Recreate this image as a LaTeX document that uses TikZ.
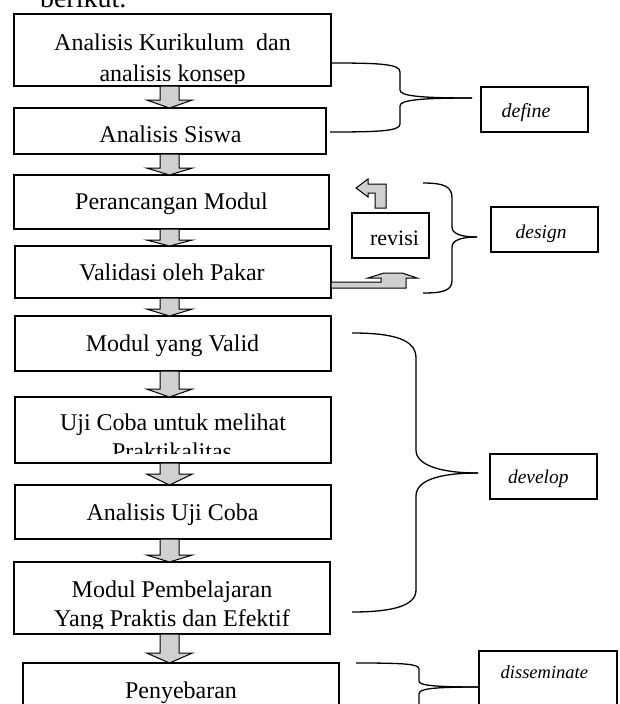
\documentclass[tikz,border=0pt]{standalone}
\usepackage{fontspec}
\setmainfont{Liberation Serif}
\usetikzlibrary{calc}
\definecolor{arrowgray}{RGB}{208,208,208}
\tikzset{
  box/.style={draw, line width=1.3pt, inner sep=0pt, outer sep=0pt},
  txt/.style={inner sep=0pt, outer sep=0pt, anchor=base, font=\fontsize{24}{28}\selectfont},
  lbl/.style={inner sep=0pt, outer sep=0pt, anchor=base west, font=\fontsize{19.5}{23}\selectfont\itshape},
  brace/.style={line width=1.3pt},
  blockarrow/.style={draw, line width=1pt, fill=arrowgray, line join=miter},
}
\newcommand\dnarrow[3]{%
  \path[blockarrow] let \p1=(#1.south), \p2=(#2.north) in
    (160pt,\y1) -- (160pt,{\y2+#3}) -- (146.5pt,{\y2+#3}) -- (169.5pt,\y2)
    -- (192.5pt,{\y2+#3}) -- (179pt,{\y2+#3}) -- (179pt,\y1) -- cycle;}
\begin{document}
\begin{tikzpicture}[x=1pt,y=-1pt]
\useasboundingbox (0,0) rectangle (619,704);
\clip (0,0) rectangle (619,704);
\fill[white] (0,0) rectangle (619,704);

\node[txt, anchor=base west, font=\fontsize{28}{32}\selectfont] (intro) at (40,8) {berikut.};

% main boxes
\node[box, minimum width=317, minimum height=72] (b1) at (172.5,50) {};
\node[box, minimum width=312, minimum height=46] (b2) at (170,131) {};
\node[box, minimum width=315, minimum height=54] (b3) at (171.5,202) {};
\node[box, minimum width=316, minimum height=52] (b4) at (173,272) {};
\node[box, minimum width=316, minimum height=55] (b5) at (173,343.5) {};
\node[box, minimum width=316, minimum height=66] (b6) at (173,430) {};
\node[box, minimum width=316, minimum height=54] (b7) at (173,512) {};
\node[box, minimum width=316, minimum height=72] (b8) at (172,598) {};
\node[box, minimum width=316, minimum height=57] (b9) at (181,691.5) {};

% texts
\node[txt] (t1a) at (172.5,50) {Analisis Kurikulum\ \ dan};
\begin{scope}
  \clip (b1.north west) rectangle ($(b1.south east)+(0,-3)$);
  \node[txt] (t1b) at (172.5,81) {analisis konsep};
\end{scope}
\node[txt] (t2) at (170.5,142) {Analisis Siswa};
\node[txt] (t3) at (171.5,209) {Perancangan Modul};
\node[txt] (t4) at (172,280) {Validasi oleh Pakar};
\node[txt] (t5) at (172.5,351) {Modul yang Valid};
\node[txt] (t6a) at (173,430) {Uji Coba untuk melihat};
\begin{scope}
  \clip (b6.north west) rectangle ($(b6.south east)+(0,-10)$);
  \node[txt] (t6b) at (172,459) {Praktikalitas};
\end{scope}
\node[txt] (t7) at (172.5,520) {Analisis Uji Coba};
\node[txt] (t8a) at (172,597) {Modul Pembelajaran};
\begin{scope}
  \clip (b8.north west) rectangle ($(b8.south east)+(0,-6)$);
  \node[txt] (t8b) at (172,626) {Yang Praktis dan Efektif};
\end{scope}
\node[txt] (t9) at (181,698) {Penyebaran};

% down block arrows
\dnarrow{b1}{b2}{8pt}
\dnarrow{b2}{b3}{7pt}
\dnarrow{b3}{b4}{6pt}
\dnarrow{b4}{b5}{7pt}
\dnarrow{b5}{b6}{8pt}
\dnarrow{b6}{b7}{11pt}
\dnarrow{b7}{b8}{7pt}
\dnarrow{b8}{b9}{10pt}

% phase label boxes
\node[box, minimum width=107, minimum height=45] (def) at (534.5,109.5) {};
\node[lbl, font=\fontsize{20}{24}\selectfont\itshape] (deft) at (501.7,117) {define};
\node[box, minimum width=107, minimum height=45] (des) at (544.5,229.5) {};
\node[lbl] (dest) at (515.7,238) {design};
\node[box, minimum width=107, minimum height=45] (dev) at (543.5,476.5) {};
\node[lbl] (devt) at (508,483) {develop};
\node[box, minimum width=138, minimum height=69] (dis) at (548,685.5) {};
\node[lbl, font=\fontsize{18.5}{22}\selectfont\itshape] (dist) at (500.7,678.5) {disseminate};

% revisi
\node[box, minimum width=77, minimum height=45] (rev) at (390.5,235.5) {};
\node[txt, font=\fontsize{22}{26}\selectfont, anchor=base east] (revt) at (419,245) {revisi};

% revision arrows
\path[blockarrow] (375,208) -- (375,193) -- (368,193) -- (368,197) -- (356,188)
  -- (368,179) -- (368,184) -- (386,184) -- (386,208) -- cycle;
\path[blockarrow] (b4.east |- 0,282) -- (381,282) -- (381,278) -- (368,278)
  -- (384,273) -- (402,273) -- (417,278) -- (406,278) -- (406,288)
  -- (b4.east |- 0,288) -- cycle;

% braces
\coordinate (deftip) at (472,98);
\draw[brace] (331,63) .. controls (380,63) and (400,64) .. (400,72) -- (400,90)
  .. controls (400,96) and (420,98) .. (deftip);
\draw[brace] (deftip) .. controls (420,98) and (400,100) .. (400,106) -- (400,124)
  .. controls (400,131) and (380,132) .. (330,132);

\coordinate (destip) at (477,237);
\draw[brace] (423,183) .. controls (445,183) and (452,187) .. (452,198) -- (452,227)
  .. controls (452,234) and (462,237) .. (destip);
\draw[brace] (destip) .. controls (462,237) and (452,240) .. (452,247) -- (452,280)
  .. controls (452,290) and (445,293) .. (423,293);

\coordinate (devtip) at (478,473);
\draw[brace] (352,333) .. controls (395,333) and (416,340) .. (416,358) -- (416,450)
  .. controls (416,465) and (440,473) .. (devtip);
\draw[brace] (devtip) .. controls (440,473) and (416,480) .. (416,496) -- (416,590)
  .. controls (416,605) and (395,612) .. (352,612);

\coordinate (distip) at (dis.west |- 0,687);
\draw[brace] (356,663) .. controls (405,663) and (419,664) .. (419,669) -- (419,681)
  .. controls (419,685) and (430,687) .. (distip);
\draw[brace] (distip) .. controls (430,687) and (419,689) .. (419,694) -- (419,712);
\end{tikzpicture}
\end{document}
